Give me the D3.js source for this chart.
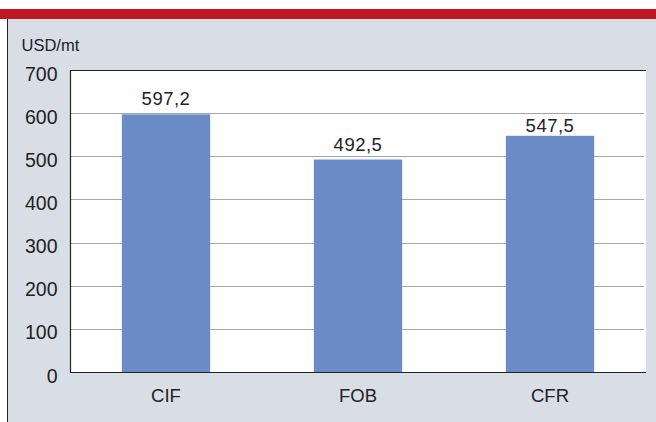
<!DOCTYPE html>
<html>
<head>
<meta charset="utf-8">
<script src="https://cdn.jsdelivr.net/npm/d3@7"></script>
<style>
  body { margin: 0; background: #fff; }
  svg { display: block; font-family: "Liberation Sans", Arial, sans-serif; }
</style>
</head>
<body>
<svg id="chart" width="656" height="422"></svg>
<script>
var categories = ["CIF", "FOB", "CFR"];
var values = [597.2, 492.5, 547.5];
var yTicks = [0, 100, 200, 300, 400, 500, 600, 700];
var unitLabel = "USD/mt";

var svg = d3.select("#chart");
var x0 = 70, x1 = 646, yTop = 70, yBot = 372;

// panel background + red band
svg.append("rect").attr("x", 7).attr("y", 19).attr("width", 649).attr("height", 403).attr("fill", "#d9dee6");
svg.append("rect").attr("x", 0).attr("y", 9).attr("width", 656).attr("height", 10).attr("fill", "#be1622");
svg.append("line").attr("x1", 7.5).attr("x2", 7.5).attr("y1", 19).attr("y2", 422)
  .attr("stroke", "#222").attr("stroke-width", 1);

var x = d3.scaleBand().domain(categories).range([x0, x1]).paddingInner(0.54).paddingOuter(0.27);
var y = d3.scaleLinear().domain([0, 700]).range([yBot, yTop]);

// plot area
svg.append("rect").attr("x", x0).attr("y", yTop).attr("width", x1 - x0).attr("height", yBot - yTop).attr("fill", "#fff");

// gridlines
var grid = yTicks.filter(function (d) { return d > 0 && d < 700; });
svg.append("g").selectAll("line").data(grid)
  .enter().append("line")
  .attr("x1", x0).attr("x2", x1 - 2)
  .attr("y1", function (d) { return Math.round(y(d)) + 0.5; })
  .attr("y2", function (d) { return Math.round(y(d)) + 0.5; })
  .attr("stroke", "#a6a6a6").attr("stroke-width", 1.2);

// bars
svg.append("g").selectAll("rect").data(values).enter().append("rect")
  .attr("x", function (d, i) { return x(categories[i]); })
  .attr("width", x.bandwidth())
  .attr("y", function (d) { return y(d); })
  .attr("height", function (d) { return yBot - y(d); })
  .attr("fill", "#6b8bc7");

// value labels - sit above the bar, but drop under a gridline if they would cross it
var capH = 13.4;
function labelBase(d) {
  var base = y(d) - 9;
  grid.forEach(function (g) {
    var gy = y(g);
    if (gy > base - capH - 2 && gy < base + 2) base = gy + capH + 5;
  });
  return base;
}
svg.append("g").selectAll("text").data(values).enter().append("text")
  .attr("x", function (d, i) { return x(categories[i]) + x.bandwidth() / 2; })
  .attr("y", labelBase)
  .attr("text-anchor", "middle")
  .attr("font-size", 18.5).attr("letter-spacing", 0.5).attr("fill", "#222")
  .text(function (d) { return d.toFixed(1).replace(".", ","); });

// frame lines: top, left, bottom
svg.append("line").attr("x1", x0).attr("x2", x1).attr("y1", yTop + 0.5).attr("y2", yTop + 0.5).attr("stroke", "#222").attr("stroke-width", 1.2);
svg.append("line").attr("x1", x0).attr("x2", x1).attr("y1", yBot + 0.5).attr("y2", yBot + 0.5).attr("stroke", "#222").attr("stroke-width", 1.2);
svg.append("line").attr("x1", x0 + 0.5).attr("x2", x0 + 0.5).attr("y1", yTop).attr("y2", yBot + 1).attr("stroke", "#222").attr("stroke-width", 1.2);

// y tick labels
svg.append("g").selectAll("text").data(yTicks).enter().append("text")
  .attr("x", 57.5)
  .attr("y", function (d) { return y(d) + 10.5; })
  .attr("text-anchor", "end")
  .attr("font-size", 19.5).attr("fill", "#222")
  .text(function (d) { return d; });

// x labels
svg.append("g").selectAll("text").data(categories).enter().append("text")
  .attr("x", function (d) { return x(d) + x.bandwidth() / 2; })
  .attr("y", 401.5)
  .attr("text-anchor", "middle")
  .attr("font-size", 18.5).attr("fill", "#222")
  .text(function (d) { return d; });

// unit label
svg.append("text").attr("x", 21.5).attr("y", 51).attr("font-size", 16.5).attr("fill", "#222").text(unitLabel);
</script>
</body>
</html>
